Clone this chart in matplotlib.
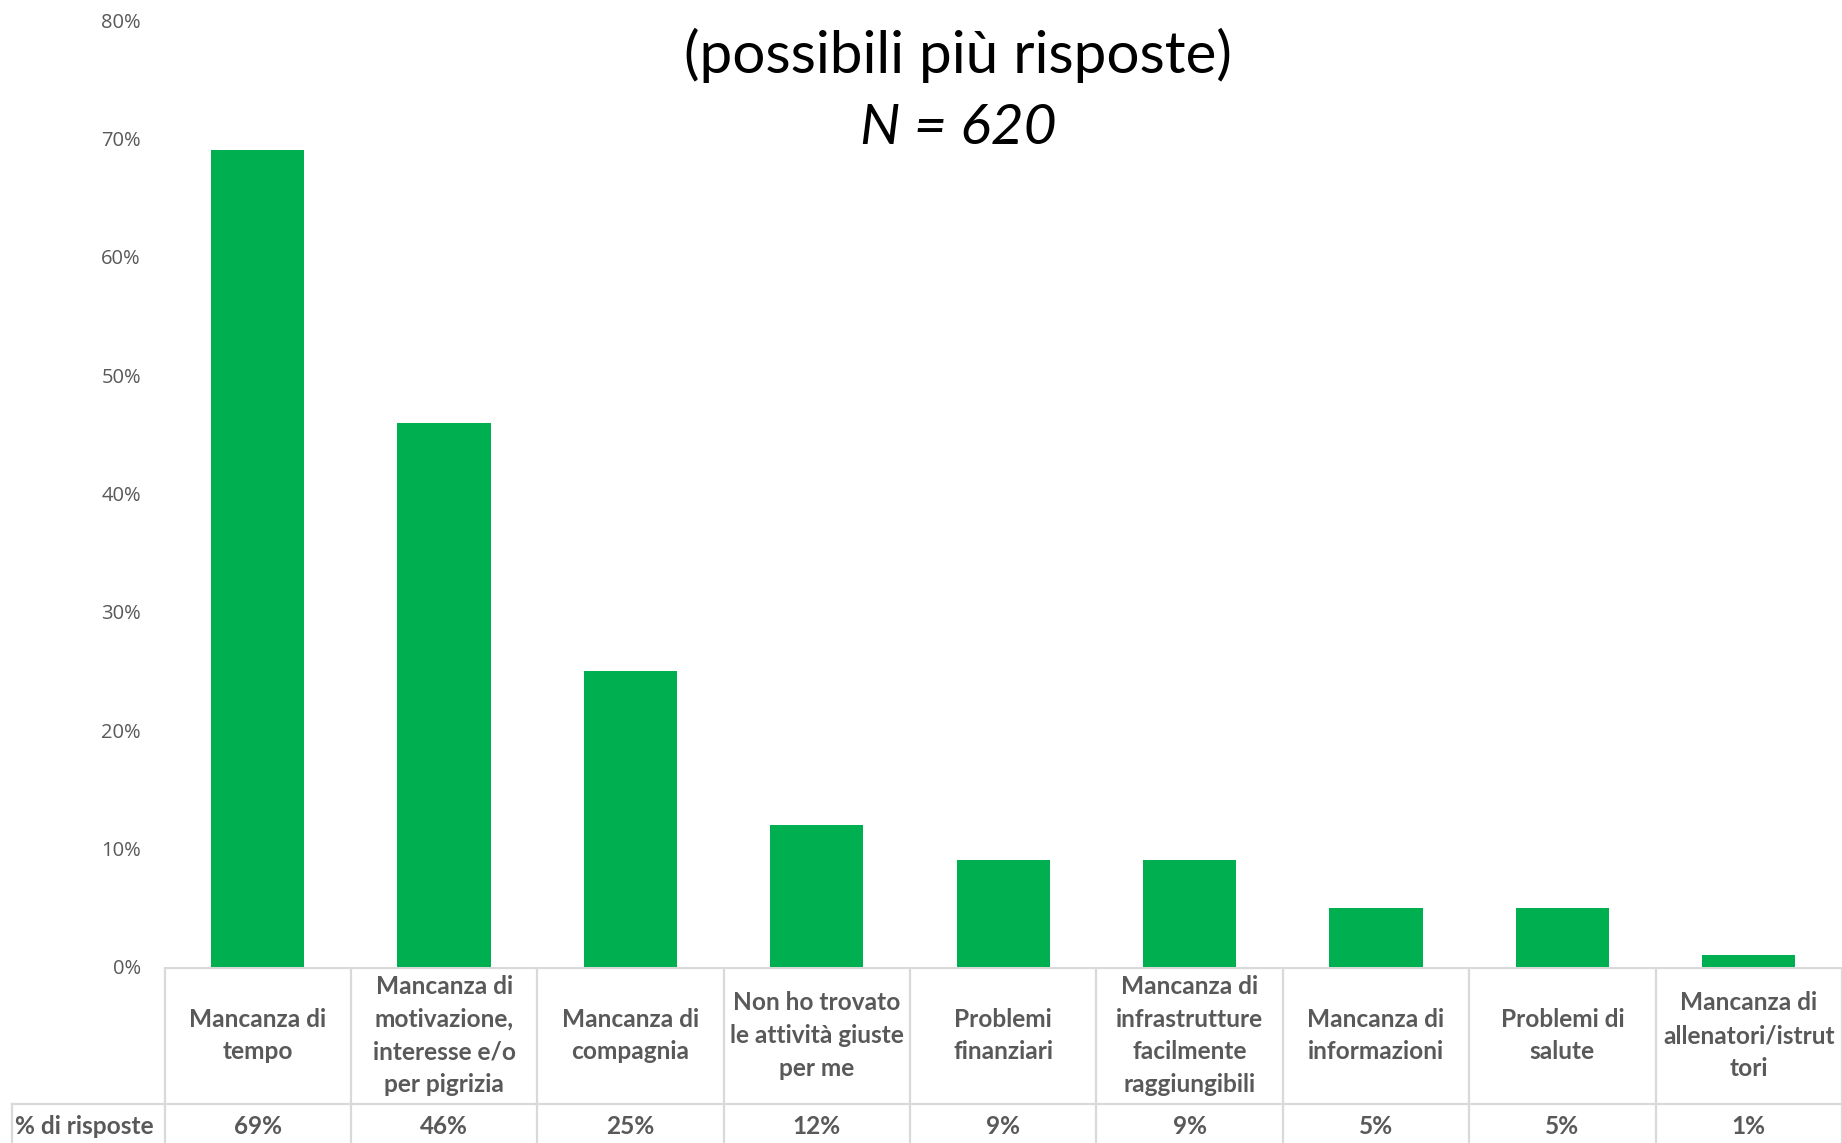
import matplotlib.pyplot as plt
from matplotlib.ticker import PercentFormatter

categories = [
    "Mancanza di\ntempo",
    "Mancanza di\nmotivazione,\ninteresse e/o\nper pigrizia",
    "Mancanza di\ncompagnia",
    "Non ho trovato\nle attività giuste\nper me",
    "Problemi\nfinanziari",
    "Mancanza di\ninfrastrutture\nfacilmente\nraggiungibili",
    "Mancanza di\ninformazioni",
    "Problemi di\nsalute",
    "Mancanza di\nallenatori/istrut\ntori",
]
values = [0.69, 0.46, 0.25, 0.12, 0.09, 0.09, 0.05, 0.05, 0.01]
value_labels = ["69%", "46%", "25%", "12%", "9%", "9%", "5%", "5%", "1%"]
row_label = "% di risposte"

W, H = 1842, 1143
green = "#00B050"
grey_text = "#595959"
grid_col = "#D9D9D9"

fig = plt.figure(figsize=(W / 100, H / 100), dpi=100)

# main axes, pixel layout
x0, y_zero, y_top = 164.5, 967, 20.3
ax = fig.add_axes([x0 / W, 1 - y_zero / H, 1 - x0 / W, (y_zero - y_top) / H])
n = len(values)
ax.bar(range(n), values, width=0.5, color=green)
ax.set_xlim(-0.5, n - 0.5)
ax.set_ylim(0, 0.8)
ax.set_yticks([i / 10 for i in range(9)])
ax.yaxis.set_major_formatter(PercentFormatter(1, decimals=0))
ax.tick_params(axis="y", length=0, pad=17, labelsize=14.5, labelcolor=grey_text)
for lab in ax.get_yticklabels():
    lab.set_fontfamily("Open Sans")
ax.set_xticks([])
for s in ax.spines.values():
    s.set_visible(False)

# table below the axes, x aligned with the bar categories
cat_w = (W - x0) / n
tab = fig.add_axes([0, 0, 1, 1 - y_zero / H])
tab.set_xlim(-0.5 - x0 / cat_w, n - 0.5)
tab.set_ylim(H, y_zero)
tab.axis("off")
row_split = 1104
left_edge = -0.5 - (x0 - 11.7) / cat_w
lw = 1.6
tab.plot([-0.5, n - 0.5], [y_zero + 1, y_zero + 1], color=grid_col, lw=lw)
tab.plot([left_edge, n - 0.5], [row_split, row_split], color=grid_col, lw=lw)
for i in range(n + 1):
    tab.plot([i - 0.5, i - 0.5], [y_zero, H], color=grid_col, lw=lw)
tab.plot([left_edge, left_edge], [row_split, H], color=grid_col, lw=lw)

tfont = dict(family="Lato", weight="bold", color=grey_text, fontsize=17.6)
for i, (c, v) in enumerate(zip(categories, value_labels)):
    tab.text(i, (y_zero + row_split) / 2, c, ha="center", va="center",
             linespacing=1.5, **tfont)
    tab.text(i, 1126, v, ha="center", va="center", **tfont)
tab.text(left_edge + 0.02, 1126, row_label, ha="left", va="center", **tfont)

# title (first line cropped off in source)
fig.text(958 / W, 1 - 55 / H, "(possibili più risposte)", ha="center", va="center",
         fontsize=42, family="Lato", color="black")
fig.text(958 / W, 1 - 129 / H, "N = 620", ha="center", va="center",
         fontsize=41, family="Lato", style="italic", color="black")

fig.savefig("out.png", dpi=100)
